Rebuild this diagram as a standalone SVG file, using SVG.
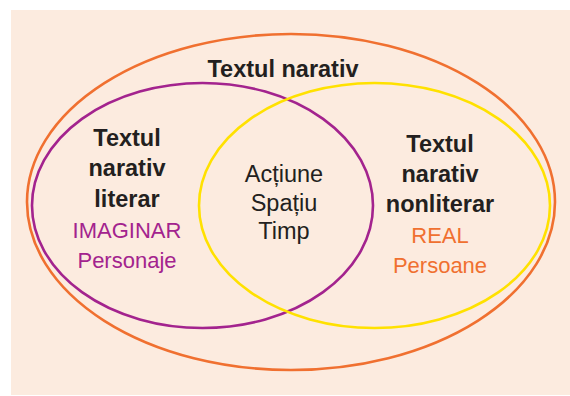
<svg xmlns="http://www.w3.org/2000/svg" width="570" height="396" viewBox="0 0 570 396">
<style>
.bg{fill:#fcebdf}
.ring{fill:none;stroke-width:2.6}
.b{font-family:"Liberation Sans",Arial,sans-serif;font-weight:bold;font-size:23.5px;fill:#231f20;text-anchor:middle}
.r{font-family:"Liberation Sans",Arial,sans-serif;font-size:22px;text-anchor:middle}
.c{font-size:23.5px;fill:#231f20}
</style>
<rect width="570" height="396" fill="#ffffff"/>
<rect class="bg" x="11" y="10" width="559" height="385"/>
<g id="narativ">
<ellipse class="ring" cx="291" cy="202" rx="264" ry="168" stroke="#f07030"/>
<text class="b" x="283" y="77">Textul narativ</text>
</g>
<g id="literar">
<ellipse class="ring" cx="202.5" cy="205.5" rx="170.5" ry="122.5" stroke="#a3238e"/>
<text class="b" x="127" y="146">Textul</text>
<text class="b" x="127" y="176">narativ</text>
<text class="b" x="127" y="207">literar</text>
<text class="r" x="127" y="238" fill="#a3238e">IMAGINAR</text>
<text class="r" x="127" y="268" fill="#a3238e">Personaje</text>
</g>
<g id="nonliterar">
<ellipse class="ring" cx="374.5" cy="205.5" rx="175.5" ry="122.5" stroke="#ffe100"/>
<text class="b" x="440" y="152">Textul</text>
<text class="b" x="440" y="182">narativ</text>
<text class="b" x="440" y="212">nonliterar</text>
<text class="r" x="440" y="243" fill="#f07030">REAL</text>
<text class="r" x="440" y="273" fill="#f07030">Persoane</text>
</g>
<g id="comun">
<text class="r c" x="284" y="182">Acțiune</text>
<text class="r c" x="284" y="211">Spațiu</text>
<text class="r c" x="284" y="239">Timp</text>
</g>
<g id="connectors"></g>
</svg>
